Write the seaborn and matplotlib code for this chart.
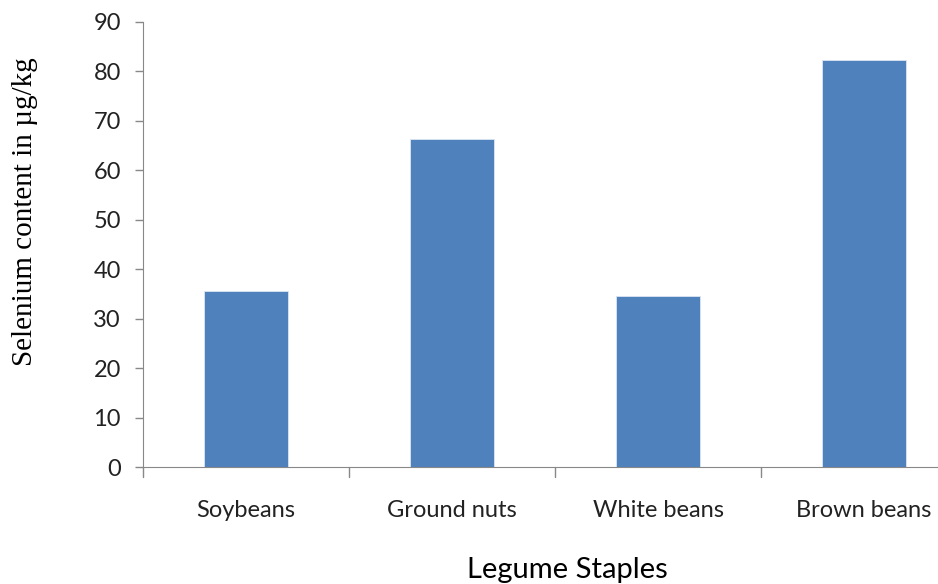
import pandas as pd
import matplotlib.pyplot as plt
import seaborn as sns

staples = ['Soybeans', 'Ground nuts', 'White beans', 'Brown beans']
selenium = [35.6, 66.4, 34.6, 82.3]
yticks = [0, 10, 20, 30, 40, 50, 60, 70, 80, 90]

data = pd.DataFrame({'staple': staples, 'selenium': selenium})

sns.set_style('white')
plt.rcParams['font.family'] = ['Lato', 'DejaVu Sans']

fig = plt.figure(figsize=(9.38, 5.84), dpi=100)
ax = fig.add_axes([143 / 938, 117 / 584, 824 / 938, 445 / 584])

sns.barplot(data=data, x='staple', y='selenium', color='#4F81BD', width=0.41,
            saturation=1, edgecolor='#DCE6F2', linewidth=0.6, ax=ax)

ax.set_ylim(0, 90)
ax.set_xlim(-0.5, 3.5)
ax.set_yticks(yticks)
ax.set_yticklabels([str(t) for t in yticks], fontsize=17, color='#222222')
ax.set_xticks([0, 1, 2, 3])
ax.set_xticklabels(staples, fontsize=17, color='#222222')
ax.tick_params(axis='x', length=0, pad=24)
ax.tick_params(axis='y', length=6, width=1, color='#888888', left=True, pad=10)

# category boundary ticks
for b in [-0.5, 0.5, 1.5, 2.5]:
    ax.plot([b, b], [0, -2.0], color='#888888', lw=1, clip_on=False)

sns.despine(ax=ax, top=True, right=True)
ax.spines['left'].set_color('#888888')
ax.spines['bottom'].set_color('#888888')

ax.set_xlabel('Legume Staples', fontsize=21, color='black')
ax.set_ylabel('Selenium content in µg/kg', fontsize=21,
              family=['Liberation Serif', 'DejaVu Serif'], color='black')
ax.xaxis.set_label_coords(0.515, -0.202)
ax.yaxis.set_label_coords(-0.128, 0.574)

fig.savefig('out.png', dpi=100)
